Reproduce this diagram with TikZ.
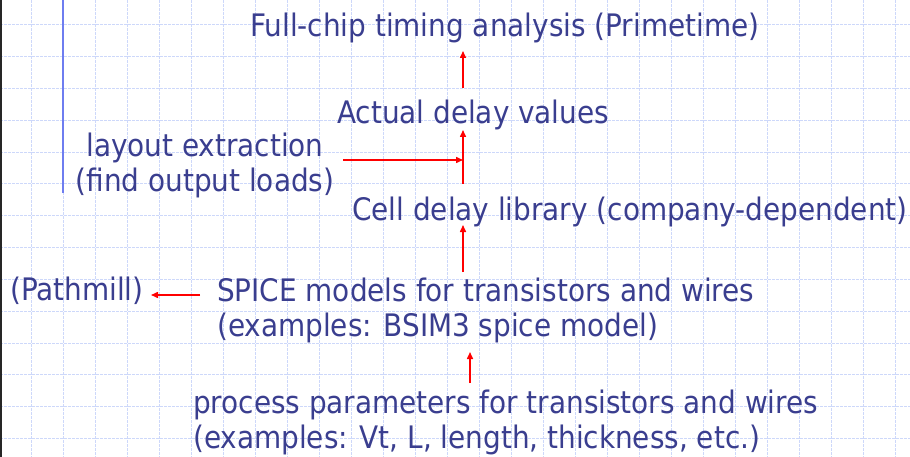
\documentclass[tikz,border=0pt]{standalone}
\usepackage{fontspec}
\setmainfont{DejaVu Sans Condensed}
\usetikzlibrary{arrows.meta}
\definecolor{ink}{RGB}{58,62,143}
\definecolor{gridblue}{RGB}{205,216,250}
\definecolor{barblue}{RGB}{110,125,240}
\definecolor{arrred}{RGB}{255,0,0}
\tikzset{
  lbl/.style={inner sep=0pt, text=ink, font=\fontsize{31}{35.5}\selectfont},
  arr/.style={draw=arrred, line width=1.5pt, -{Triangle[length=7pt,width=6pt]}},
  gridline/.style={draw=gridblue, line width=1pt, dash pattern=on 3pt off 1pt},
}
\begin{document}
\begin{tikzpicture}[x=1pt,y=-1pt]
  \useasboundingbox (0,0) rectangle (910,457);
  \fill[white] (0,0) rectangle (910,457);
  % background grid
  \foreach \k in {0,...,27} {\draw[gridline] (31+32*\k,0) -- (31+32*\k,457);}
  \foreach \k in {0,...,13} {\draw[gridline] (0,25+31.8*\k) -- (910,25+31.8*\k);}
  % frame edge and side bar
  \fill[black!85] (0,0) rectangle (2,457);
  \draw[barblue, line width=2pt] (63,0) -- (63,193);
  % labels
  \node[lbl, anchor=base west] (full) at (250,36.5) {Full-chip timing analysis (Primetime)};
  \node[lbl, anchor=base west] (actual) at (337,124) {Actual delay values};
  \node[lbl, anchor=north, align=center] (layout) at (205,132.5) {layout extraction\\(find output loads)};
  \node[lbl, anchor=base west] (cell) at (352,221) {Cell delay library (company-dependent)};
  \node[lbl, anchor=base west] (pathmill) at (10,300.7) {(Pathmill)};
  \node[lbl, anchor=north west, align=left] (spice) at (217,277.3) {SPICE models for transistors and wires\\(examples: BSIM3 spice model)};
  \node[lbl, anchor=north west, align=left] (process) at (193,389.3) {process parameters for transistors and wires\\(examples: Vt, L, length, thickness, etc.)};
  % arrow anchor points
  \coordinate (a1s) at (463,88);  \coordinate (a1e) at (463,51);
  \coordinate (a2s) at (463,184); \coordinate (a2e) at (463,130);
  \coordinate (a3s) at (343,160); \coordinate (a3e) at (463,160);
  \coordinate (a4s) at (463,272); \coordinate (a4e) at (463,225);
  \coordinate (a5s) at (200,295); \coordinate (a5e) at (151,295);
  \coordinate (a6s) at (470,383); \coordinate (a6e) at (470,352);
  \draw[arr] (a1s) -- (a1e);
  \draw[arr] (a2s) -- (a2e);
  \draw[arr] (a3s) -- (a3e);
  \draw[arr] (a4s) -- (a4e);
  \draw[arr] (a5s) -- (a5e);
  \draw[arr] (a6s) -- (a6e);
\end{tikzpicture}
\end{document}
